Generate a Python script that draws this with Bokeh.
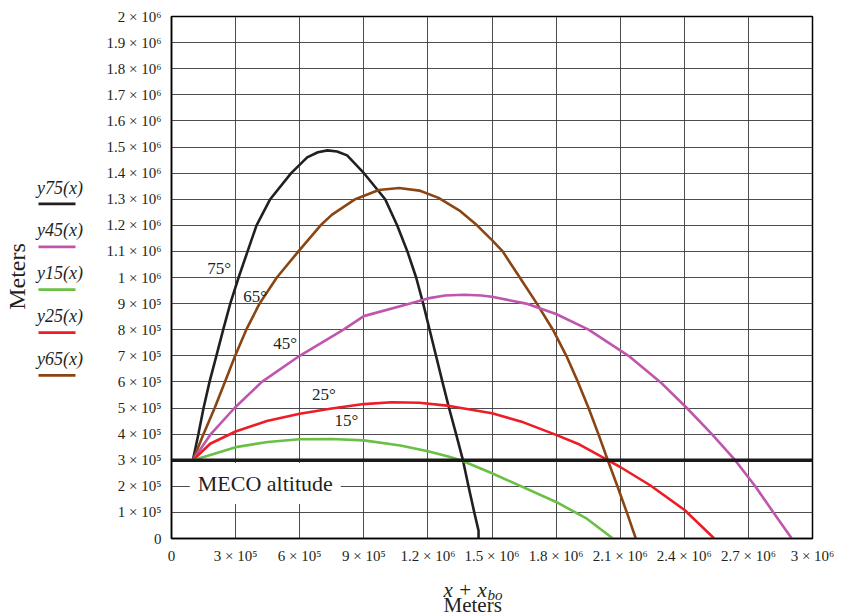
import math
from bokeh.plotting import figure
from bokeh.layouts import row, column
from bokeh.models import FixedTicker, Label, Span, BoxAnnotation, Range1d
from bokeh.embed import file_html
from bokeh.resources import INLINE

# ---- data ----
x_ticks = [0, 300000, 600000, 900000, 1200000, 1500000, 1800000, 2100000, 2400000, 2700000, 3000000]
x_tick_labels = ["0", "3 × 10⁵", "6 × 10⁵", "9 × 10⁵", "1.2 × 10⁶", "1.5 × 10⁶",
                 "1.8 × 10⁶", "2.1 × 10⁶", "2.4 × 10⁶", "2.7 × 10⁶", "3 × 10⁶"]
y_ticks = [i * 100000 for i in range(21)]
y_tick_labels = ["0", "1 × 10⁵", "2 × 10⁵", "3 × 10⁵", "4 × 10⁵", "5 × 10⁵", "6 × 10⁵",
                 "7 × 10⁵", "8 × 10⁵", "9 × 10⁵", "1 × 10⁶", "1.1 × 10⁶", "1.2 × 10⁶",
                 "1.3 × 10⁶", "1.4 × 10⁶", "1.5 × 10⁶", "1.6 × 10⁶", "1.7 × 10⁶",
                 "1.8 × 10⁶", "1.9 × 10⁶", "2 × 10⁶"]

meco_altitude = 300000

x75 = [1.0e5, 1.26e5, 1.5e5, 1.78e5, 2.1e5, 2.42e5, 2.75e5, 3.14e5, 3.56e5, 3.98e5, 4.62e5,
       5.6e5, 6.35e5, 6.85e5, 7.3e5, 7.75e5, 8.22e5, 8.95e5, 9.6e5, 1.0e6, 1.056e6, 1.104e6,
       1.145e6, 1.178e6, 1.208e6, 1.238e6, 1.268e6, 1.299e6, 1.332e6, 1.364e6, 1.39e6,
       1.417e6, 1.437e6, 1.437e6]
y75 = [3.0e5, 4.0e5, 5.0e5, 6.0e5, 7.0e5, 8.0e5, 9.0e5, 1.0e6, 1.1e6, 1.2e6, 1.3e6,
       1.4e6, 1.46e6, 1.48e6, 1.487e6, 1.483e6, 1.468e6, 1.405e6, 1.34e6, 1.3e6, 1.2e6, 1.1e6,
       1.0e6, 9.0e5, 8.0e5, 7.0e5, 6.0e5, 5.0e5, 4.0e5, 3.0e5, 2.0e5,
       1.0e5, 3.0e4, 0.0]

x65 = [1.0e5, 1.5e5, 2.02e5, 2.5e5, 2.98e5, 3.5e5, 4.12e5, 4.93e5, 5.94e5, 6.98e5, 7.5e5,
       8.6e5, 9.7e5, 1.065e6, 1.16e6, 1.25e6, 1.352e6, 1.43e6, 1.5e6, 1.55e6, 1.63e6,
       1.71e6, 1.785e6, 1.848e6, 1.902e6, 1.952e6, 1.998e6, 2.042e6, 2.087e6, 2.131e6, 2.173e6]
y65 = [3.0e5, 4.0e5, 5.0e5, 6.0e5, 7.0e5, 8.0e5, 9.0e5, 1.0e6, 1.1e6, 1.2e6, 1.24e6,
       1.3e6, 1.335e6, 1.343e6, 1.333e6, 1.305e6, 1.254e6, 1.2e6, 1.143e6, 1.1e6, 1.0e6,
       9.0e5, 8.0e5, 7.0e5, 6.0e5, 5.0e5, 4.0e5, 3.0e5, 2.0e5, 1.0e5, 0.0]

x45 = [1.0e5, 1.84e5, 2.95e5, 4.23e5, 6.0e5, 8.05e5, 9.0e5, 1.117e6, 1.2e6, 1.28e6, 1.37e6,
       1.45e6, 1.5e6, 1.66e6, 1.8e6, 1.952e6, 2.139e6, 2.287e6, 2.412e6, 2.529e6, 2.638e6,
       2.732e6, 2.817e6, 2.903e6]
y45 = [3.0e5, 4.0e5, 5.0e5, 6.0e5, 7.0e5, 8.0e5, 8.52e5, 9.0e5, 9.2e5, 9.31e5, 9.34e5,
       9.31e5, 9.26e5, 9.0e5, 8.6e5, 8.0e5, 7.0e5, 6.0e5, 5.0e5, 4.0e5, 3.0e5,
       2.0e5, 1.0e5, 0.0]

x25 = [1.0e5, 1.81e5, 3.0e5, 4.46e5, 6.0e5, 7.5e5, 9.0e5, 1.03e6, 1.16e6, 1.3e6, 1.5e6,
       1.647e6, 1.8e6, 1.91e6, 2.042e6, 2.1e6, 2.24e6, 2.4e6, 2.54e6]
y25 = [3.0e5, 3.63e5, 4.1e5, 4.5e5, 4.78e5, 4.98e5, 5.15e5, 5.22e5, 5.2e5, 5.08e5, 4.8e5,
       4.45e5, 3.97e5, 3.6e5, 3.0e5, 2.74e5, 2.04e5, 1.1e5, 0.0]

x15 = [1.0e5, 1.97e5, 3.0e5, 4.5e5, 6.0e5, 7.5e5, 9.0e5, 1.071e6, 1.2e6, 1.3e6,
       1.36e6, 1.5e6, 1.8e6, 1.944e6, 2.066e6]
y15 = [3.0e5, 3.24e5, 3.5e5, 3.7e5, 3.8e5, 3.81e5, 3.76e5, 3.56e5, 3.34e5, 3.13e5,
       2.98e5, 2.5e5, 1.4e5, 7.6e4, 0.0]

angle_labels = ["75°", "65°", "45°", "25°", "15°"]
angle_label_x = [2.23e5, 3.92e5, 5.32e5, 7.13e5, 8.19e5]
angle_label_y = [1.035e6, 9.28e5, 7.47e5, 5.5e5, 4.53e5]

legend_names = ["y75(x)", "y45(x)", "y15(x)", "y25(x)", "y65(x)"]

C75 = "#231f20"
C65 = "#8b4513"
C45 = "#bf55ad"
C25 = "#ee1c25"
C15 = "#6abf45"
legend_colors = [C75, C45, C15, C25, C65]

SERIF = "Liberation Serif"
TXT = "#231f20"

LEFT_W = 100
TOP_H = 564
TOTAL_W = 844
TOTAL_H = 615


def blank(width, height, xr, yr):
    f = figure(width=width, height=height, x_range=xr, y_range=yr,
               output_backend="svg", toolbar_location=None,
               min_border=0, background_fill_color="white", border_fill_color="white")
    f.axis.visible = False
    f.grid.visible = False
    f.outline_line_color = None
    return f


# ---------------- main chart ----------------
p = figure(frame_width=641, frame_height=522,
           x_range=Range1d(0, 3000000), y_range=Range1d(0, 2000000),
           output_backend="svg", toolbar_location=None,
           min_border_left=171 - LEFT_W, min_border_right=TOTAL_W - 812,
           min_border_top=16, min_border_bottom=TOP_H - 538,
           background_fill_color="white", border_fill_color="white")

p.outline_line_color = "black"
p.outline_line_width = 1.5

for ax in (p.xaxis[0], p.yaxis[0]):
    ax.major_tick_line_color = None
    ax.minor_tick_line_color = None
    ax.axis_line_color = "black"
    ax.axis_line_width = 1.5
    ax.major_label_text_font = SERIF
    ax.major_label_text_font_size = "15px"
    ax.major_label_text_color = TXT

p.xaxis.ticker = FixedTicker(ticks=x_ticks)
p.xaxis.major_label_overrides = dict(zip(x_ticks, x_tick_labels))
p.xaxis.major_label_standoff = 3
p.yaxis.ticker = FixedTicker(ticks=y_ticks)
p.yaxis.major_label_overrides = dict(zip(y_ticks, y_tick_labels))
p.yaxis.major_label_standoff = 4

p.xgrid.ticker = FixedTicker(ticks=x_ticks)
p.ygrid.ticker = FixedTicker(ticks=y_ticks)
for g in (p.xgrid[0], p.ygrid[0]):
    g.grid_line_color = "#3a3a3a"
    g.grid_line_width = 1
    g.grid_line_alpha = 0.9

p.add_layout(Label(x=4.39e5, y=2.11e5, text="MECO altitude", text_font=SERIF,
                   text_font_size="22px", text_color=TXT, text_align="center",
                   text_baseline="middle", background_fill_color="white", padding=8))

lw = 2.6
p.line(x75, y75, line_color=C75, line_width=lw)
p.line(x65, y65, line_color=C65, line_width=lw)
p.line(x45, y45, line_color=C45, line_width=lw)
p.line(x25, y25, line_color=C25, line_width=lw)
p.line(x15, y15, line_color=C15, line_width=lw)

p.add_layout(Span(location=meco_altitude, dimension="width", line_color="#1a1a1a", line_width=3.5))

for t, ax_, ay_ in zip(angle_labels, angle_label_x, angle_label_y):
    p.add_layout(Label(x=ax_, y=ay_, text=t, text_font=SERIF, text_font_size="17px",
                       text_color=TXT, text_align="center", text_baseline="middle"))

# ---------------- left strip: y title + legend ----------------
lf = blank(LEFT_W, TOP_H, Range1d(0, LEFT_W), Range1d(TOP_H, 0))
lf.add_layout(Label(x=16, y=282, text="Meters", angle=math.pi / 2, text_font=SERIF,
                    text_font_size="24px", text_color=TXT, text_align="center",
                    text_baseline="middle"))
for i, (name, col) in enumerate(zip(legend_names, legend_colors)):
    ty = 185.5 + i * 46.5
    lf.add_layout(Label(x=59.5, y=ty, text=name, text_font=SERIF, text_font_style="italic",
                        text_font_size="18px", text_color=TXT, text_align="center",
                        text_baseline="middle"))
    by = ty + 17.8
    lf.add_layout(BoxAnnotation(left=38, right=75, top=by - 1.5, bottom=by + 1.5,
                                fill_color=col, fill_alpha=1, line_color=None))

# ---------------- bottom strip: x title ----------------
bf = blank(TOTAL_W, TOTAL_H - TOP_H, Range1d(0, TOTAL_W), Range1d(TOTAL_H, TOP_H))
bf.add_layout(Label(x=443, y=587, text="x + x", text_font=SERIF, text_font_style="italic",
                    text_font_size="21px", text_color=TXT, text_align="left",
                    text_baseline="middle"))
bf.add_layout(Label(x=487, y=592, text="bo", text_font=SERIF, text_font_style="italic",
                    text_font_size="15px", text_color=TXT, text_align="left",
                    text_baseline="middle"))
bf.add_layout(Label(x=443, y=602, text="Meters", text_font=SERIF, text_font_size="21px",
                    text_color=TXT, text_align="left", text_baseline="middle"))

layout = column(row(lf, p, spacing=0), bf, spacing=0)

open("out.html", "w").write(file_html(layout, INLINE))
